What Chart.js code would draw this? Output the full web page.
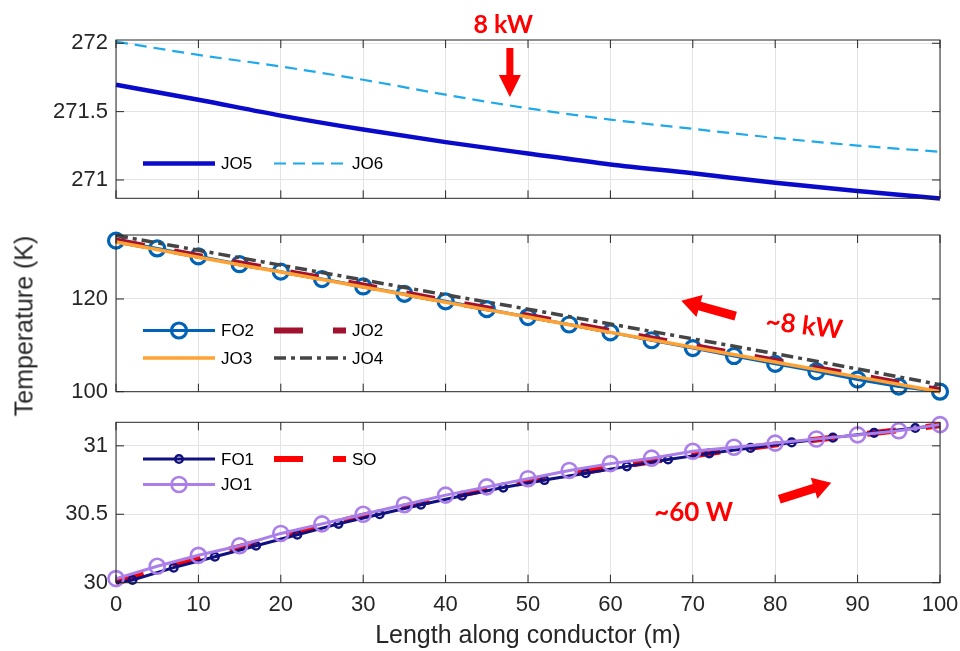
<!DOCTYPE html>
<html>
<head>
<meta charset="utf-8">
<script src="https://cdn.jsdelivr.net/npm/chart.js@4.4.1/dist/chart.umd.min.js"></script>
<style>
  body { margin: 0; background: #fff; }
  #wrap { position: relative; width: 960px; height: 651px; overflow: hidden; }
  #wrap canvas { position: absolute; left: 0; top: 0; }
  #ylab {
    position: absolute; left: 24px; top: 326px;
    transform: translate(-50%, -50%) rotate(-90deg);
    font: 25px "Liberation Sans", Arial, sans-serif; color: #262626; white-space: nowrap;
  }
</style>
</head>
<body>
<div id="wrap">
  <canvas id="c1" width="960" height="651"></canvas>
  <canvas id="c2" width="960" height="651"></canvas>
  <canvas id="c3" width="960" height="651"></canvas>
  <div id="ylab">Temperature (K)</div>
</div>
<script>
// positions along the conductor (m)
var xTen  = [0, 10, 20, 30, 40, 50, 60, 70, 80, 90, 100];
var xFive = [0, 5, 10, 15, 20, 25, 30, 35, 40, 45, 50, 55, 60, 65, 70, 75, 80, 85, 90, 95, 100];
var xFO1  = [0, 2, 7, 12, 17, 22, 27, 32, 37, 42, 47, 52, 57, 62, 67, 72, 77, 82, 87, 92, 97, 100];

// top panel (K)
var jo5 = [271.697, 271.587, 271.471, 271.369, 271.277, 271.194, 271.114, 271.049, 270.98, 270.92, 270.864];
var jo6 = [272.012, 271.915, 271.83, 271.733, 271.624, 271.524, 271.442, 271.374, 271.308, 271.252, 271.206];

// middle panel (K)
var fo2 = [132.6, 130.9, 129.2, 127.5, 125.9, 124.3, 122.7, 121.1, 119.5, 117.8, 116.1,
           114.5, 112.8, 111.1, 109.4, 107.7, 106.0, 104.4, 102.6, 101.1, 100.0];
var jo2 = [132.6, 129.3, 126.1, 122.9, 119.6, 116.4, 113.1, 109.9, 106.7, 103.5, 100.3];
var jo3 = [132.3, 129.0, 125.8, 122.6, 119.3, 116.1, 112.8, 109.6, 106.4, 103.2, 100.0];
var jo4 = [133.7, 130.5, 127.3, 124.1, 120.9, 117.8, 114.6, 111.4, 108.2, 104.9, 101.5];

// bottom panel (K)
var fo1 = [30.0, 30.02, 30.11, 30.19, 30.27, 30.35, 30.43, 30.50, 30.57, 30.635, 30.695,
           30.75, 30.80, 30.85, 30.90, 30.945, 30.985, 31.025, 31.06, 31.095, 31.13, 31.15];
var jo1 = [30.03, 30.12, 30.20, 30.27, 30.36, 30.43, 30.50, 30.57, 30.64, 30.70, 30.76,
           30.82, 30.87, 30.91, 30.96, 30.99, 31.02, 31.05, 31.08, 31.11, 31.155];
var so  = [30.0, 30.18, 30.34, 30.49, 30.62, 30.74, 30.84, 30.93, 31.01, 31.08, 31.15];

var topTicks = [271, 271.5, 272];
var midTicks = [100, 120];
var botTicks = [30, 30.5, 31];

var FONT = '"Liberation Sans", Arial, sans-serif';
var NOTE_FONT = 'Lato, "Open Sans", sans-serif';
var INK = '#262626';
var GRID = '#e3e3e3';

function pts(xs, ys) {
  return ys.map(function (v, i) { return { x: xs[i], y: v }; });
}

function drawArrow(ctx, x1, y1, x2, y2, shaft, head, headLen) {
  var a = Math.atan2(y2 - y1, x2 - x1);
  var len = Math.hypot(x2 - x1, y2 - y1);
  ctx.save();
  ctx.translate(x1, y1);
  ctx.rotate(a);
  ctx.beginPath();
  ctx.moveTo(0, -shaft / 2);
  ctx.lineTo(len - headLen, -shaft / 2);
  ctx.lineTo(len - headLen, -head / 2);
  ctx.lineTo(len, 0);
  ctx.lineTo(len - headLen, head / 2);
  ctx.lineTo(len - headLen, shaft / 2);
  ctx.lineTo(0, shaft / 2);
  ctx.closePath();
  ctx.fillStyle = '#ff0000';
  ctx.fill();
  ctx.restore();
}

// box, inward ticks, legend and the red notes
var decor = {
  id: 'decor',
  afterDatasetsDraw: function (chart, args, o) {
    var ctx = chart.ctx, ca = chart.chartArea;
    var xs = chart.scales.x, ys = chart.scales.y;
    ctx.save();
    ctx.strokeStyle = INK;
    ctx.lineWidth = 1;
    ctx.setLineDash([]);
    ctx.strokeRect(ca.left, ca.top, ca.right - ca.left, ca.bottom - ca.top);
    ctx.beginPath();
    ys.ticks.forEach(function (t) {
      var y = ys.getPixelForValue(t.value);
      ctx.moveTo(ca.left, y); ctx.lineTo(ca.left + 8, y);
      ctx.moveTo(ca.right, y); ctx.lineTo(ca.right - 8, y);
    });
    xs.ticks.forEach(function (t) {
      var x = xs.getPixelForValue(t.value);
      ctx.moveTo(x, ca.top); ctx.lineTo(x, ca.top + 8);
      ctx.moveTo(x, ca.bottom); ctx.lineTo(x, ca.bottom - 8);
    });
    ctx.stroke();

    // legend
    (o.legend || []).forEach(function (e) {
      var ds = chart.data.datasets[e.ds];
      var x0 = e.x, y = e.y;
      ctx.strokeStyle = ds.borderColor;
      ctx.lineWidth = ds.borderWidth;
      ctx.setLineDash(ds.borderDash || []);
      ctx.beginPath();
      ctx.moveTo(x0, y); ctx.lineTo(x0 + 72, y);
      ctx.stroke();
      ctx.setLineDash([]);
      if (e.marker) {
        ctx.lineWidth = ds.pointBorderWidth;
        ctx.beginPath();
        ctx.arc(x0 + 36, y, e.marker, 0, Math.PI * 2);
        ctx.stroke();
      }
      ctx.fillStyle = '#000';
      ctx.font = '17px ' + FONT;
      ctx.textAlign = 'left';
      ctx.textBaseline = 'middle';
      ctx.fillText(ds.label, x0 + 78, y + 1);
    });

    // red notes
    (o.arrows || []).forEach(function (a) {
      drawArrow(ctx, xs.getPixelForValue(a.from[0]), ys.getPixelForValue(a.from[1]),
        xs.getPixelForValue(a.to[0]), ys.getPixelForValue(a.to[1]), a.shaft, a.head, a.headLen);
    });
    (o.texts || []).forEach(function (t) {
      ctx.save();
      ctx.translate(xs.getPixelForValue(t.at[0]), ys.getPixelForValue(t.at[1]));
      ctx.rotate((t.rot || 0) * Math.PI / 180);
      ctx.fillStyle = '#ff0000';
      ctx.font = 'bold ' + t.size + 'px ' + NOTE_FONT;
      ctx.textAlign = 'center';
      ctx.textBaseline = 'middle';
      ctx.fillText(t.text, 0, 0);
      ctx.restore();
    });
    ctx.restore();
  }
};

function makePanel(id, datasets, p) {
  return new Chart(document.getElementById(id), {
    type: 'line',
    data: { datasets: datasets },
    plugins: [decor],
    options: {
      responsive: false,
      animation: false,
      events: [],
      devicePixelRatio: 1,
      layout: { padding: { left: 0, right: 20, top: p.top, bottom: p.bottom } },
      plugins: {
        legend: { display: false },
        tooltip: { enabled: false },
        decor: { legend: p.legend, arrows: p.arrows, texts: p.texts }
      },
      scales: {
        x: {
          type: 'linear', min: 0, max: 100,
          ticks: { stepSize: 10, display: p.showX, padding: 9, color: INK,
                   font: { family: FONT, size: 22 }, maxRotation: 0, autoSkip: false },
          grid: { color: GRID, drawTicks: false },
          border: { display: false },
          title: { display: p.showX, text: 'Length along conductor (m)', color: INK,
                   font: { family: FONT, size: 25 }, padding: 0 },
          afterFit: function (s) { s.height = p.xHeight; s.paddingLeft = 0; s.paddingRight = 0; }
        },
        y: {
          type: 'linear', min: p.min, max: p.max,
          afterBuildTicks: function (s) { s.ticks = p.ticks.map(function (v) { return { value: v }; }); },
          ticks: { padding: 8, color: INK, font: { family: FONT, size: 22 },
                   callback: function (v) { return String(v); } },
          grid: { color: GRID, drawTicks: false },
          border: { display: false },
          afterFit: function (s) { s.width = 116; s.paddingTop = 0; s.paddingBottom = 0; }
        }
      }
    }
  });
}

function line(label, xs, ys, color, width, extra) {
  var d = {
    label: label, data: pts(xs, ys), borderColor: color, borderWidth: width,
    pointRadius: 0, pointBorderWidth: 0, pointBackgroundColor: 'rgba(0,0,0,0)',
    pointBorderColor: color, fill: false, clip: false, tension: 0,
    cubicInterpolationMode: 'monotone'
  };
  for (var k in extra) d[k] = extra[k];
  return d;
}

// top panel
makePanel('c1', [
  line('JO5', xTen, jo5, '#0a0acb', 4.5, {}),
  line('JO6', xTen, jo6, '#1da9ea', 2.2, { borderDash: [12, 7] })
], {
  top: 40, bottom: 452.7, xHeight: 0, showX: false,
  min: 270.866, max: 272.024, ticks: topTicks,
  legend: [{ ds: 0, x: 143, y: 163.5 }, { ds: 1, x: 274, y: 163.5 }],
  arrows: [{ from: [47.8, 271.965], to: [47.8, 271.607], shaft: 7, head: 22, headLen: 22 }],
  texts: [{ text: '8 kW', at: [47.0, 272.134], size: 25 }]
});

// middle panel
makePanel('c2', [
  line('FO2', xFive, fo2, '#0063b5', 3, { pointRadius: 7.5, pointBorderWidth: 3.2, order: 4, cubicInterpolationMode: 'default' }),
  line('JO2', xTen, jo2, '#a2122e', 6, { borderDash: [29, 30], order: 3 }),
  line('JO3', xTen, jo3, '#ffa234', 3.5, { order: 2 }),
  line('JO4', xTen, jo4, '#454545', 3.5, { borderDash: [12, 5, 4, 5], order: 1 })
], {
  top: 235, bottom: 259.3, xHeight: 0, showX: false,
  min: 100, max: 133.8, ticks: midTicks,
  legend: [{ ds: 0, x: 143, y: 330.5, marker: 7.5 }, { ds: 1, x: 274, y: 330.5 },
           { ds: 2, x: 143, y: 358 }, { ds: 3, x: 274, y: 358 }],
  arrows: [{ from: [75.2, 116.3], to: [68.6, 119.6], shaft: 9, head: 23, headLen: 19 }],
  texts: [{ text: '~8 kW', at: [83.5, 114.2], size: 26, rot: 7 }]
});

// bottom panel
var fo1Radius = xFO1.map(function (x, i) { return (i === 0 || i === xFO1.length - 1) ? 0 : 3.8; });
makePanel('c3', [
  line('FO1', xFO1, fo1, '#10107e', 3, { pointRadius: fo1Radius, pointBorderWidth: 2.5, order: 2, cubicInterpolationMode: 'default' }),
  line('JO1', xFive, jo1, '#ab7fea', 3, { pointRadius: 7.5, pointBorderWidth: 2.6, order: 1, cubicInterpolationMode: 'default' }),
  line('SO', xTen, so, '#ff0000', 6, { borderDash: [29, 30], order: 3 })
], {
  top: 422.3, bottom: 0, xHeight: 68.3, showX: true,
  min: 30, max: 31.172, ticks: botTicks,
  legend: [{ ds: 0, x: 143, y: 459, marker: 3.8 }, { ds: 2, x: 274, y: 459 },
           { ds: 1, x: 143, y: 484.5, marker: 7.5 }],
  arrows: [{ from: [80.5, 30.61], to: [86.8, 30.73], shaft: 9, head: 22, headLen: 18 }],
  texts: [{ text: '~60 W', at: [70.1, 30.51], size: 26 }]
});
</script>
</body>
</html>
